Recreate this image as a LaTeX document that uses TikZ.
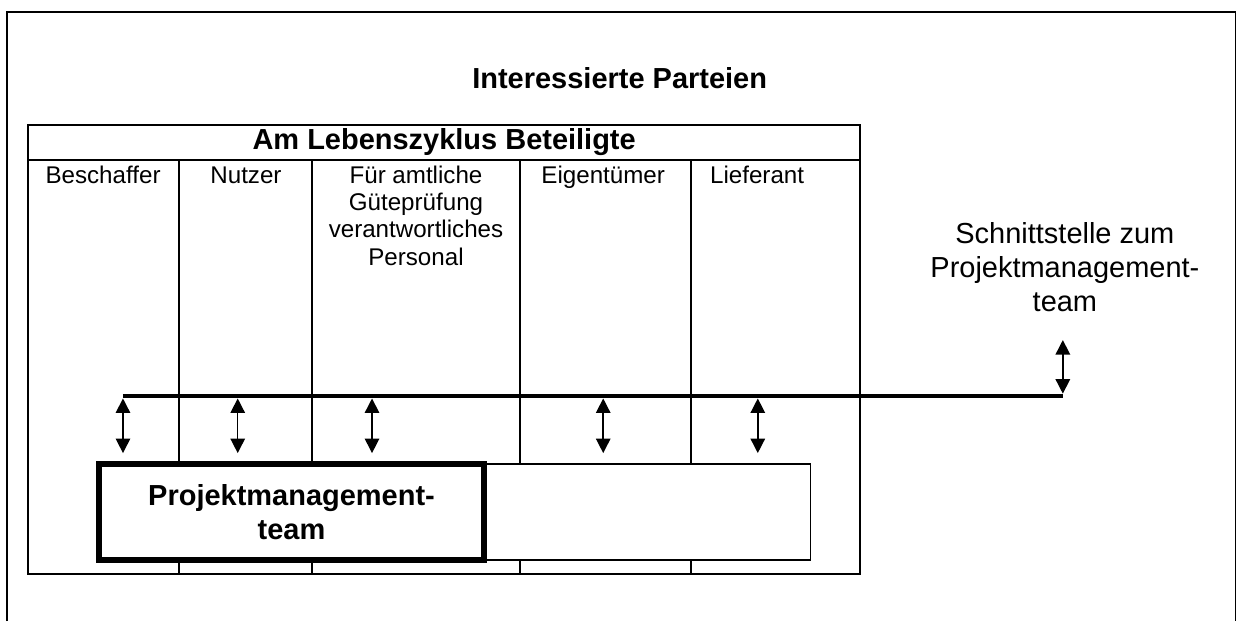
\documentclass[tikz,border=0pt]{standalone}
\usepackage{fontspec}
\setmainfont{Liberation Sans}
\usetikzlibrary{arrows.meta}
\tikzset{
	twoway/.style={line width=0.6pt,{Triangle[width=6pt,length=6pt]}-{Triangle[width=6pt,length=6pt]}},
	collabel/.style={anchor=north,align=center,inner sep=1pt,font=\fontsize{10}{11.2}\selectfont},
	bighead/.style={font=\bfseries\fontsize{12}{14}\selectfont}
}
\begin{document}
\begin{tikzpicture}
	\useasboundingbox (0,0) rectangle (18.005,9.04);
	% frame, open at the bottom
	\draw[line width=0.6pt] (0.10,0) -- (0.10,8.865) -- (17.98,8.865) -- (17.98,0);
	\node[bighead] (parteien) at (9.02,7.90) {Interessierte Parteien};
	
	\draw[line width=0.8pt] (0.41,0.684) rectangle (12.52,7.22);
	\draw[line width=0.8pt] (0.41,6.71) -- (12.52,6.71);
	\node[bighead] (zyklus) at (6.465,6.965) {Am Lebenszyklus Beteiligte};
	\foreach \x in {2.61,4.54,7.57,10.06}
	\draw[line width=0.8pt] (\x,0.684) -- (\x,6.71);
	
	\foreach \x/\n/\txt in {1.50/beschaffer/Beschaffer,3.58/nutzer/Nutzer,
		6.055/guete/{Für amtliche\\Güteprüfung\\verantwortliches\\Personal},
		8.78/eigentuemer/Eigentümer,11.02/lieferant/Lieferant}
	\node[collabel] (\n) at (\x,6.66) {\txt};
	
	% boxes below the bus
	\node[draw,fill=white,line width=0.6pt,minimum width=4.96cm,minimum height=1.397cm,inner sep=0pt] (rest) at (9.32,1.587) {};
	\node[draw,fill=white,line width=2.5pt,minimum width=5.60cm,minimum height=1.397cm,align=center,bighead] (pmteam) at (4.243,1.587) {Projektmanagement-\\team};
	
	\node[align=center,font=\fontsize{12}{14}\selectfont] (schnitt) at (15.50,5.15) {Schnittstelle zum\\Projektmanagement-\\team};
	
	\coordinate (busL) at (1.79,3.275);
	\coordinate (busR) at (15.47,3.275);
	\coordinate (schnittfuss) at (15.47,4.09);
	\draw[line width=2pt] (busL) -- (busR);
	\draw[twoway] ([yshift=1pt]busR) -- (schnittfuss);
	
	\foreach \x [count=\i] in {1.79,3.46,5.415,8.78,11.03}
	{
		\coordinate (top\i) at (\x,3.24);
		\coordinate (bot\i) at (\x,2.445);
		\draw[twoway] (top\i) -- (bot\i);
	}
\end{tikzpicture}
\end{document}
